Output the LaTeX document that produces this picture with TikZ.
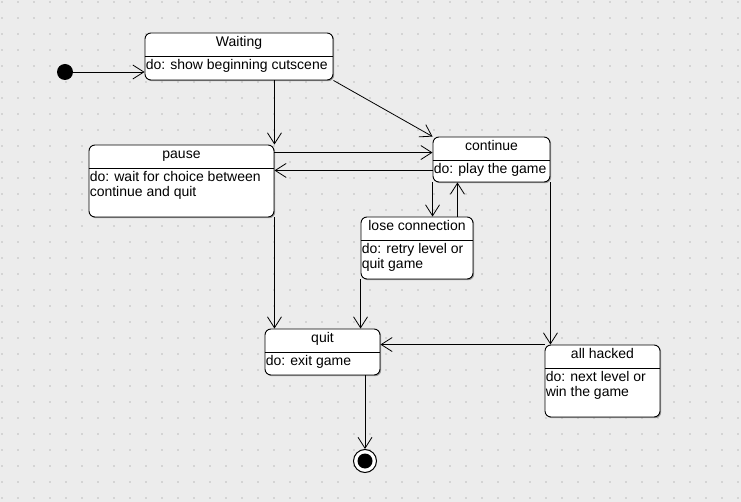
\documentclass[tikz,border=0pt]{standalone}
\usepackage{fontspec}
\setmainfont{Liberation Sans}
\usetikzlibrary{arrows.meta,calc,shadows}
\definecolor{canvas}{HTML}{ECECEC}
\definecolor{griddot}{HTML}{D4D4D4}
\definecolor{shadowgray}{HTML}{7A7A7A}

\begin{document}
\begin{tikzpicture}
	[x=1pt,y=-1pt,font=\fontsize{14}{15}\selectfont,
	 statebox/.style={draw,fill=white,rounded corners=6pt,line width=0.9pt,inner sep=0pt,
		drop shadow={shadow xshift=1.2pt,shadow yshift=-1.2pt,opacity=.7,fill=shadowgray}},
	 stitle/.style={anchor=base,inner sep=0pt},
	 sbody/.style={anchor=base west,inner sep=0pt,align=left},
	 startdot/.style={circle,fill=black,minimum size=16pt,inner sep=0pt},
	 finaldot/.style={circle,draw,fill=white,line width=1pt,minimum size=23pt,inner sep=0pt,
		path picture={\fill[black] (path picture bounding box.center) circle (7.5pt);}},
	 trans/.style={line width=0.8pt,-{Straight Barb[length=11pt,width=14pt,line width=0.8pt]}}]
	% fundo com grade de pontos
	\fill[canvas] (0,0) rectangle (741,502);
	\foreach \i in {0,...,46}
		\foreach \j in {0,...,31}
			\fill[griddot] (16*\i+1,16*\j+1) rectangle +(2,2);
	\useasboundingbox (0,0) rectangle (741,502);
	% estados
	\node[startdot] (start) at (65,72) {};
	\node[statebox,minimum width=188pt,minimum height=47pt] (waiting) at (239,56.5) {};
	\node[statebox,minimum width=185pt,minimum height=72pt] (pause) at (181.5,181) {};
	\node[statebox,minimum width=117pt,minimum height=45pt] (continue) at (491.5,159.5) {};
	\node[statebox,minimum width=112pt,minimum height=62pt] (lose) at (417,248) {};
	\node[statebox,minimum width=115pt,minimum height=46pt] (quit) at (322.5,352) {};
	\node[statebox,minimum width=115pt,minimum height=72pt] (hacked) at (602.5,381) {};
	\node[finaldot] (final) at (365,461) {};
	% linhas divisorias
	\foreach \s in {waiting,pause,continue,lose,quit,hacked}
		\draw[line width=0.9pt] ([yshift=-24pt]\s.north west) -- ([yshift=-24pt]\s.north east);
	% textos (em duas linhas a base fica na ultima linha)
	\node[stitle] (waitingT) at ([yshift=-14pt]waiting.north) {Waiting};
	\node[sbody] (waitingB) at ([shift={(1pt,-37pt)}]waiting.north west) {do: show beginning cutscene};
	\node[stitle] (pauseT) at ([yshift=-14pt]pause.north) {pause};
	\node[sbody] (pauseB) at ([shift={(1pt,-52pt)}]pause.north west) {do: wait for choice between\\continue and quit};
	\node[stitle] (continueT) at ([yshift=-14pt]continue.north) {continue};
	\node[sbody] (continueB) at ([shift={(1pt,-37pt)}]continue.north west) {do: play the game};
	\node[stitle] (loseT) at ([yshift=-14pt]lose.north) {lose connection};
	\node[sbody] (loseB) at ([shift={(1pt,-52pt)}]lose.north west) {do: retry level or\\quit game};
	\node[stitle] (quitT) at ([yshift=-14pt]quit.north) {quit};
	\node[sbody] (quitB) at ([shift={(1pt,-37pt)}]quit.north west) {do: exit game};
	\node[stitle] (hackedT) at ([yshift=-14pt]hacked.north) {all hacked};
	\node[sbody] (hackedB) at ([shift={(1pt,-52pt)}]hacked.north west) {do: next level or\\win the game};
	% transicoes
	\foreach \from/\to in {start/start -| waiting.west,
		pause.north east |- waiting.south/pause.north east,
		waiting.south east/continue.north west,
		continue.south west/continue.south west |- lose.north,
		pause.south east/pause.south east |- quit.north,
		lose.south west/lose.south west |- quit.north,
		continue.south east/continue.south east |- hacked.north,
		hacked.north west/hacked.north west -| quit.east,
		final |- quit.south/final}
		\draw[trans] (\from) -- (\to);
	\draw[trans] ($(pause.north east)+(0,8)$) coordinate (pc) -- (pc -| continue.west);
	\draw[trans] ($(continue.south west)+(0,-12)$) coordinate (cp) -- (cp -| pause.east);
	\draw[trans] ($(lose.north east)+(-16,0)$) coordinate (lc) -- (lc |- continue.south);
\end{tikzpicture}
\end{document}
